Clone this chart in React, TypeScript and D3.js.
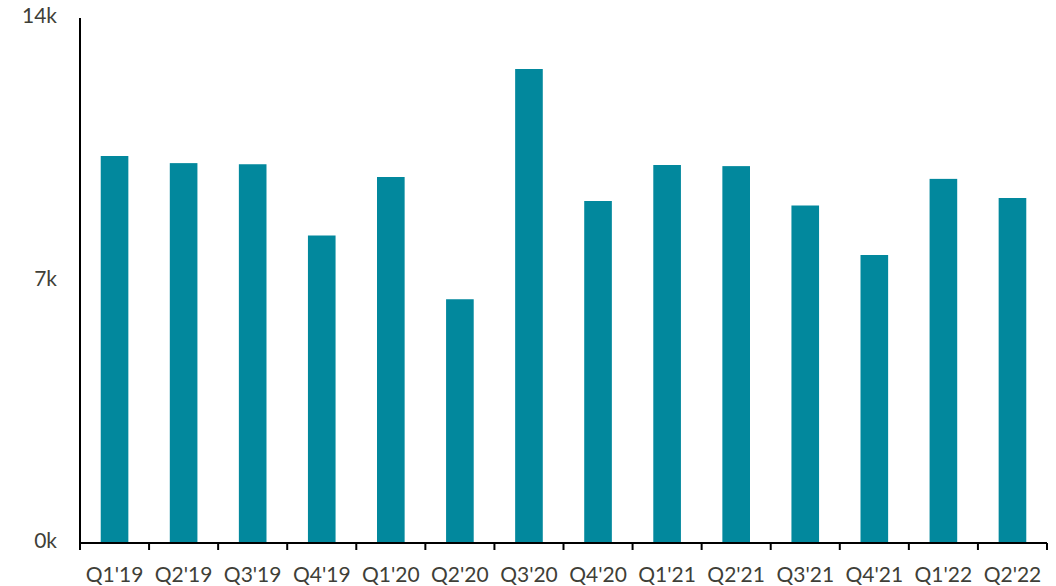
import React from "react";
import * as d3 from "d3";

const categories = ["Q1'19", "Q2'19", "Q3'19", "Q4'19", "Q1'20", "Q2'20", "Q3'20", "Q4'20", "Q1'21", "Q2'21", "Q3'21", "Q4'21", "Q1'22", "Q2'22"];
const values = [10.32, 10.13, 10.1, 8.2, 9.76, 6.5, 12.64, 9.12, 10.08, 10.05, 9.0, 7.68, 9.71, 9.2];
const yTicks = [0, 7, 14];

const W = 1056, H = 586;
const left = 80, right = 1047, top = 18, bottom = 543;

export default function App() {
  const x = d3.scaleBand<string>().domain(categories).range([left, right]).paddingInner(0.6).paddingOuter(0.3);
  const band = d3.scaleBand<string>().domain(categories).range([left, right]);
  const y = d3.scaleLinear().domain([0, 14]).range([bottom, top]);
  const textColor = "#3f3f38";
  const font = "Lato, 'Noto Sans', sans-serif";
  return (
    <svg width={W} height={H} style={{ position: "absolute", left: 0, top: 0, background: "#fff" }}>
      {categories.map((c, i) => (
        <rect key={c} x={x(c)} y={y(values[i])} width={x.bandwidth()} height={y(0) - y(values[i])} fill="#02889d" />
      ))}
      <line x1={left} x2={left} y1={top} y2={bottom} stroke="#000" strokeWidth={2} />
      <line x1={left} x2={right} y1={bottom} y2={bottom} stroke="#000" strokeWidth={2} />
      {categories.map((c) => (
        <line key={"t" + c} x1={band(c)!} x2={band(c)!} y1={bottom} y2={bottom + 7} stroke="#000" strokeWidth={2} />
      ))}
      <line x1={right} x2={right} y1={bottom} y2={bottom + 7} stroke="#000" strokeWidth={2} />
      {categories.map((c) => (
        <text key={"l" + c} x={band(c)! + band.bandwidth() / 2} y={577} textAnchor="middle" dominantBaseline="middle" fontFamily={font} fontSize={21} fill={textColor}>{c}</text>
      ))}
      {yTicks.map((t) => (
        <text key={"y" + t} x={57} y={y(t)} textAnchor="end" dominantBaseline="middle" fontFamily={font} fontSize={21} fill={textColor}>{t + "k"}</text>
      ))}
    </svg>
  );
}
